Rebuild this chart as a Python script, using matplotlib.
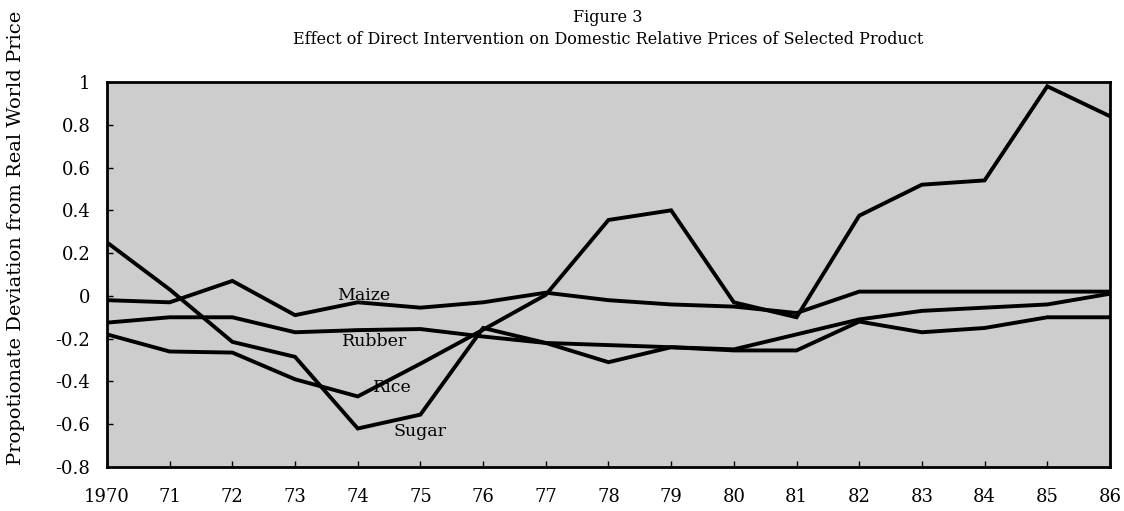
import numpy as np
import matplotlib.pyplot as plt

plt.rcParams['font.family'] = ['DejaVu Serif']

years = np.arange(1970, 1987)
tick_labels = ["1970", "71", "72", "73", "74", "75", "76", "77", "78",
               "79", "80", "81", "82", "83", "84", "85", "86"]

maize = [-0.02, -0.03, 0.07, -0.09, -0.03, -0.055, -0.03, 0.015, -0.02,
         -0.04, -0.05, -0.08, 0.02, 0.02, 0.02, 0.02, 0.02]
rubber = [-0.125, -0.10, -0.10, -0.17, -0.16, -0.155, -0.19, -0.22, -0.23,
          -0.24, -0.25, -0.18, -0.11, -0.07, -0.055, -0.04, 0.01]
rice = [-0.18, -0.26, -0.265, -0.39, -0.47, -0.317, -0.158, 0.005, 0.355,
        0.40, -0.03, -0.10, 0.375, 0.52, 0.54, 0.98, 0.84]
sugar = [0.25, 0.03, -0.215, -0.285, -0.62, -0.555, -0.15, -0.22, -0.31,
         -0.24, -0.255, -0.255, -0.12, -0.17, -0.15, -0.10, -0.10]

fig = plt.figure(figsize=(11.24, 5.11), dpi=100)
ax = fig.add_axes([0.0952, 0.0861, 0.8923, 0.7534])
ax.set_facecolor('#cdcdcd')

for s in (maize, rubber, rice, sugar):
    ax.plot(years, s, color='black', lw=2.8, solid_joinstyle='miter')

# series labels sit inside the plot
ax.text(1974.1, 0.0, "Maize", ha='center', va='center', fontsize=12.5)
ax.text(1974.27, -0.215, "Rubber", ha='center', va='center', fontsize=12.5)
ax.text(1974.56, -0.43, "Rice", ha='center', va='center', fontsize=12.5)
ax.text(1975.0, -0.635, "Sugar", ha='center', va='center', fontsize=12.5)

ax.set_xlim(1970, 1986)
ax.set_ylim(-0.8, 1.0)
ax.set_xticks(years)
ax.set_xticklabels(tick_labels)
yt = np.round(np.arange(-0.8, 1.01, 0.2), 1)
ax.set_yticks(yt)
ax.set_yticklabels(["1" if v == 1 else ("0" if v == 0 else f"{v:g}") for v in yt])
ax.tick_params(direction='in', length=4, width=1, labelsize=13)
ax.tick_params(axis='x', pad=15)
ax.tick_params(axis='y', pad=12)
for sp in ax.spines.values():
    sp.set_linewidth(2)

fig.text(0.541, 0.965, "Figure 3", ha='center', va='center', fontsize=11.5)
fig.text(0.541, 0.922, "Effect of Direct Intervention on Domestic Relative Prices of Selected Product",
         ha='center', va='center', fontsize=11.5)
fig.text(0.014, 0.535, "Propotionate Deviation from Real World Price",
         rotation=90, ha='center', va='center', fontsize=14)

fig.savefig("out.png", dpi=100)
